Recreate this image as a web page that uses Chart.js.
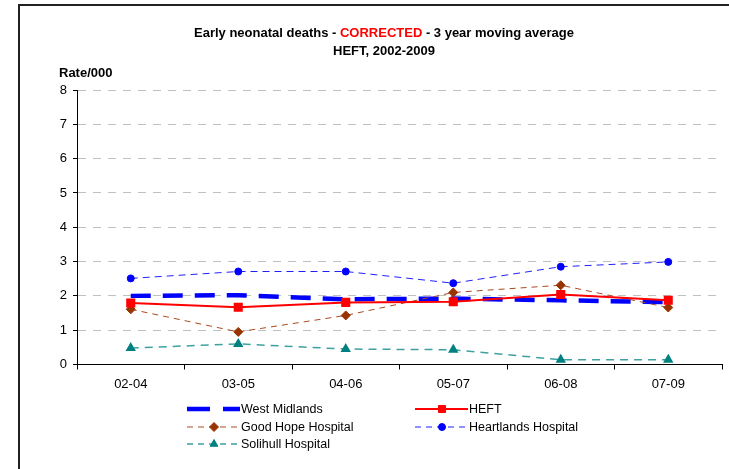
<!DOCTYPE html>
<html>
<head>
<meta charset="utf-8">
<script src="https://cdn.jsdelivr.net/npm/chart.js@4.4.0/dist/chart.umd.min.js"></script>
<style>
  html, body { margin: 0; padding: 0; background: #fff; }
  #wrap { position: relative; width: 729px; height: 469px; }
</style>
</head>
<body>
<div id="wrap"><canvas id="chart" width="729" height="469"></canvas></div>
<script>
const periods = ['02-04', '03-05', '04-06', '05-07', '06-08', '07-09'];
const westMidlands = [2.00, 2.02, 1.90, 1.92, 1.87, 1.82];
const heft = [1.79, 1.67, 1.81, 1.83, 2.04, 1.87];
const goodHope = [1.61, 0.95, 1.43, 2.10, 2.31, 1.66];
const heartlands = [2.51, 2.71, 2.71, 2.37, 2.85, 2.99];
const solihull = [0.48, 0.60, 0.45, 0.43, 0.14, 0.14];
const yTicks = [0, 1, 2, 3, 4, 5, 6, 7, 8];

const FONT = '"Liberation Sans", Arial, sans-serif';

// frame, titles and the two-column legend
const decor = {
  id: 'decor',
  beforeDraw(chart) {
    const ctx = chart.ctx;
    ctx.save();
    ctx.strokeStyle = '#222';
    ctx.lineWidth = 2;
    ctx.beginPath();
    ctx.moveTo(19, 469);
    ctx.lineTo(19, 5);
    ctx.lineTo(729, 5);
    ctx.stroke();
    ctx.restore();
  },
  afterDraw(chart) {
    const ctx = chart.ctx;
    ctx.save();
    // title line 1, with the red word
    ctx.font = 'bold 13px ' + FONT;
    ctx.textBaseline = 'middle';
    ctx.textAlign = 'left';
    const parts = [['Early neonatal deaths - ', '#000'], ['CORRECTED', '#ff0000'], [' - 3 year moving average', '#000']];
    let total = 0;
    parts.forEach(p => total += ctx.measureText(p[0]).width);
    let x = 384 - total / 2;
    parts.forEach(p => {
      ctx.fillStyle = p[1];
      ctx.fillText(p[0], x, 33);
      x += ctx.measureText(p[0]).width;
    });
    ctx.fillStyle = '#000';
    ctx.textAlign = 'center';
    ctx.fillText('HEFT, 2002-2009', 384, 51);
    ctx.textAlign = 'left';
    ctx.fillText('Rate/000', 59, 73);

    // legend
    const slots = [[187, 409], [415, 409], [187, 427], [415, 427], [187, 444]];
    ctx.font = '12.5px ' + FONT;
    chart.data.datasets.forEach((ds, k) => {
      const [lx, ly] = slots[k];
      ctx.save();
      ctx.strokeStyle = ds.borderColor;
      ctx.lineWidth = ds.borderWidth;
      ctx.setLineDash(ds.legendDash || ds.borderDash || []);
      ctx.beginPath();
      ctx.moveTo(lx, ly);
      ctx.lineTo(lx + 53, ly);
      ctx.stroke();
      ctx.restore();
      if (ds.pointRadius > 0) {
        ctx.save();
        ctx.fillStyle = ds.pointBackgroundColor;
        ctx.strokeStyle = ds.pointBorderColor;
        ctx.lineWidth = 1;
        Chart.helpers.drawPoint(ctx, {pointStyle: ds.pointStyle, radius: ds.pointRadius, rotation: 0, borderWidth: 1}, lx + 27, ly);
        ctx.restore();
      }
      ctx.fillStyle = '#000';
      ctx.textBaseline = 'middle';
      ctx.fillText(ds.label, lx + 54, ly + 1);
    });
    ctx.restore();
  }
};

new Chart(document.getElementById('chart'), {
  type: 'line',
  data: {
    labels: periods,
    datasets: [
      {
        label: 'West Midlands', data: westMidlands, order: 5,
        borderColor: '#0000ff', borderWidth: 4.5, borderDash: [20, 12], legendDash: [23, 13],
        pointRadius: 0, pointHoverRadius: 0
      },
      {
        label: 'HEFT', data: heft, order: 1,
        borderColor: '#ff0000', borderWidth: 2,
        pointStyle: 'rect', pointRadius: 5, pointBackgroundColor: '#ff0000', pointBorderColor: '#ff0000'
      },
      {
        label: 'Good Hope Hospital', data: goodHope, order: 3,
        borderColor: '#a84a20', borderWidth: 1, borderDash: [6, 5], legendDash: [6, 5],
        pointStyle: 'rectRot', pointRadius: 4.5, pointBackgroundColor: '#993300', pointBorderColor: '#993300'
      },
      {
        label: 'Heartlands Hospital', data: heartlands, order: 2,
        borderColor: '#2020ff', borderWidth: 1, borderDash: [7, 5], legendDash: [6, 5],
        pointStyle: 'circle', pointRadius: 3.5, pointBackgroundColor: '#0000ff', pointBorderColor: '#0000ff'
      },
      {
        label: 'Solihull Hospital', data: solihull, order: 4,
        borderColor: '#40a0a0', borderWidth: 1.5, borderDash: [8, 6], legendDash: [6, 5],
        pointStyle: 'triangle', pointRadius: 4.5, pointBackgroundColor: '#008080', pointBorderColor: '#008080'
      }
    ]
  },
  options: {
    responsive: false,
    animation: false,
    layout: { padding: { top: 90, left: 0, right: 7, bottom: 0 } },
    plugins: { legend: { display: false }, title: { display: false }, tooltip: { enabled: false } },
    scales: {
      x: {
        offset: true,
        grid: { display: true, drawOnChartArea: false, offset: true, tickLength: 5, tickColor: '#000' },
        border: { color: '#000', width: 1 },
        ticks: { color: '#000', font: { family: FONT, size: 13 }, padding: 7, maxRotation: 0 },
        afterFit(scale) { scale.height = 104.5; }
      },
      y: {
        min: 0, max: 8,
        afterBuildTicks(scale) { scale.ticks = yTicks.map(v => ({ value: v })); },
        grid: {
          color: c => (c.tick && c.tick.value === 0) ? 'rgba(0,0,0,0)' : '#c0c0c0',
          tickColor: '#000', tickLength: 4
        },
        border: { color: '#000', width: 1, dash: [8, 7] },
        ticks: { color: '#000', font: { family: FONT, size: 13 }, padding: 6 },
        afterFit(scale) { scale.width = 77; }
      }
    }
  },
  plugins: [decor]
});
</script>
</body>
</html>
